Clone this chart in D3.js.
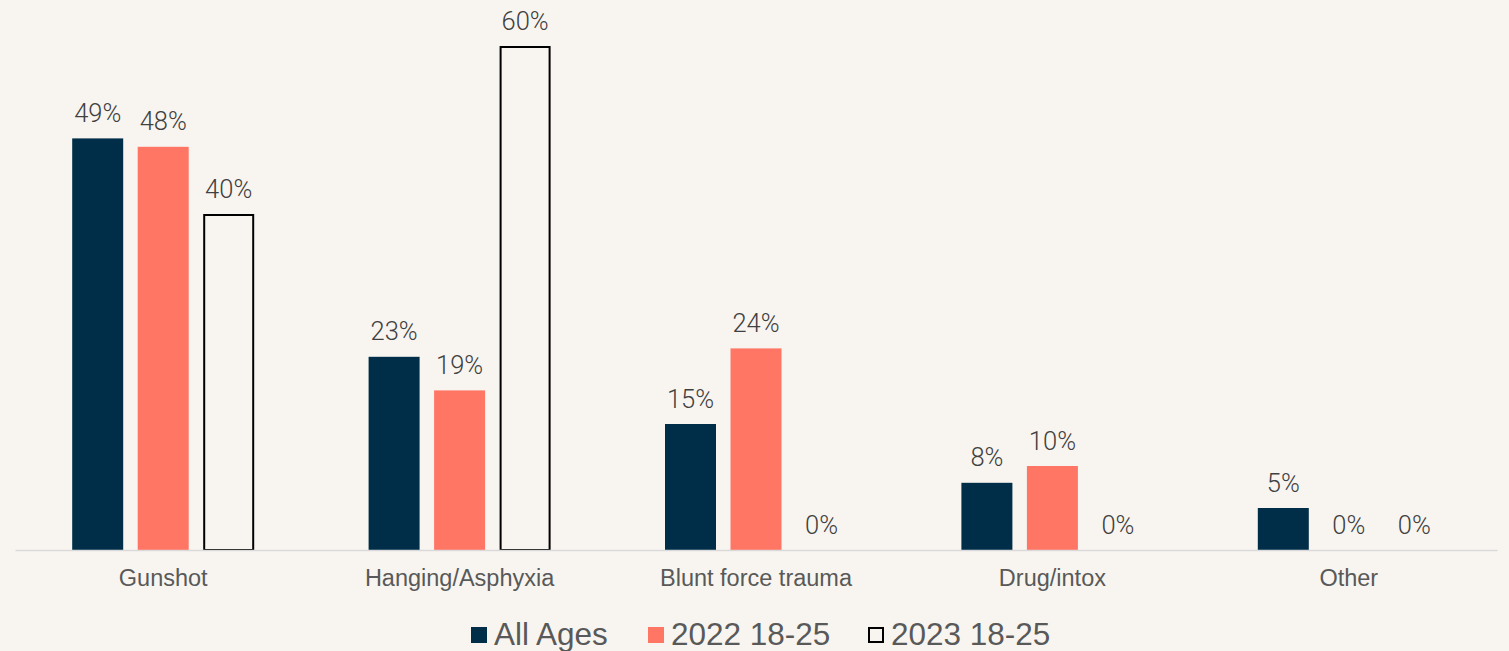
<!DOCTYPE html>
<html>
<head>
<meta charset="utf-8">
<script src="https://cdn.jsdelivr.net/npm/d3@7"></script>
<style>
  html, body { margin: 0; padding: 0; background: #F8F5F0; }
  svg { display: block; }
</style>
</head>
<body>
<svg id="chart" width="1509" height="651"></svg>
<script>
const categories = ["Gunshot", "Hanging/Asphyxia", "Blunt force trauma", "Drug/intox", "Other"];
const seriesNames = ["All Ages", "2022 18-25", "2023 18-25"];
const allAges = [49, 23, 15, 8, 5];
const y2022 = [48, 19, 24, 10, 0];
const y2023 = [40, 60, 0, 0, 0];

const seriesValues = [allAges, y2022, y2023];
const colors = ["#002E48", "#FF7664", "#F8F5F0"];
const strokes = ["none", "none", "#000000"];

const svg = d3.select("#chart");
const W = 1509, H = 651;
svg.append("rect").attr("width", W).attr("height", H).attr("fill", "#F8F5F0");

const x = d3.scaleBand().domain(categories).range([15, 1497]).padding(0);
const inner = d3.scaleBand().domain(d3.range(seriesNames.length)).range([-91, 91]).paddingInner(0.2214).paddingOuter(0);
const y = d3.scaleLinear().domain([0, 60]).range([550, 46]);

const groups = svg.selectAll("g.cat").data(categories).join("g")
  .attr("class", "cat")
  .attr("transform", d => `translate(${x(d) + x.bandwidth() / 2},0)`);

seriesNames.forEach((s, si) => {
  groups.each(function(c, ci) {
    const v = seriesValues[si][ci];
    const g = d3.select(this);
    const bx = inner(si);
    const bw = inner.bandwidth();
    const o = strokes[si] !== "none";
    if (v > 0) {
      g.append("rect")
        .attr("x", bx + (o ? 1 : 0))
        .attr("y", y(v) + (o ? 1 : 0))
        .attr("width", bw - (o ? 2 : 0))
        .attr("height", y(0) - y(v) - (o ? 1 : 0))
        .attr("fill", colors[si])
        .attr("stroke", strokes[si])
        .attr("stroke-width", 2);
    }
    g.append("text")
      .attr("x", bx + bw / 2)
      .attr("y", y(v) - 16.5)
      .attr("text-anchor", "middle")
      .attr("font-family", "Roboto, sans-serif")
      .attr("font-weight", 300)
      .attr("font-size", 25.5)
      .attr("fill", "#404040")
      .text(v + "%");
  });
});

// axis baseline
const xAxis = d3.axisBottom(x).tickSize(0).tickPadding(19.5);
const axG = svg.append("g").attr("transform", "translate(0,550)").call(xAxis);
axG.select(".domain").attr("stroke", "#D9D9D9").attr("stroke-width", 1.5);
axG.selectAll("text")
  .attr("font-family", "'Liberation Sans', Arial, sans-serif")
  .attr("font-size", 23.5)
  .attr("fill", "#595959");

// legend
const legendItems = [
  {name: seriesNames[0], x: 471},
  {name: seriesNames[1], x: 648},
  {name: seriesNames[2], x: 868}
];
const lg = svg.append("g");
legendItems.forEach((it, i) => {
  const o = i === 2;
  lg.append("rect")
    .attr("x", it.x + (o ? 1 : 0)).attr("y", 627 + (o ? 1 : 0))
    .attr("width", 16 - (o ? 2 : 0)).attr("height", 16 - (o ? 2 : 0))
    .attr("fill", colors[i])
    .attr("stroke", strokes[i]).attr("stroke-width", 2);
  lg.append("text")
    .attr("x", it.x + 23).attr("y", 644.5)
    .attr("font-family", "'Liberation Sans', Arial, sans-serif")
    .attr("font-size", 31.5)
    .attr("fill", "#595959")
    .text(it.name);
});
</script>
</body>
</html>
